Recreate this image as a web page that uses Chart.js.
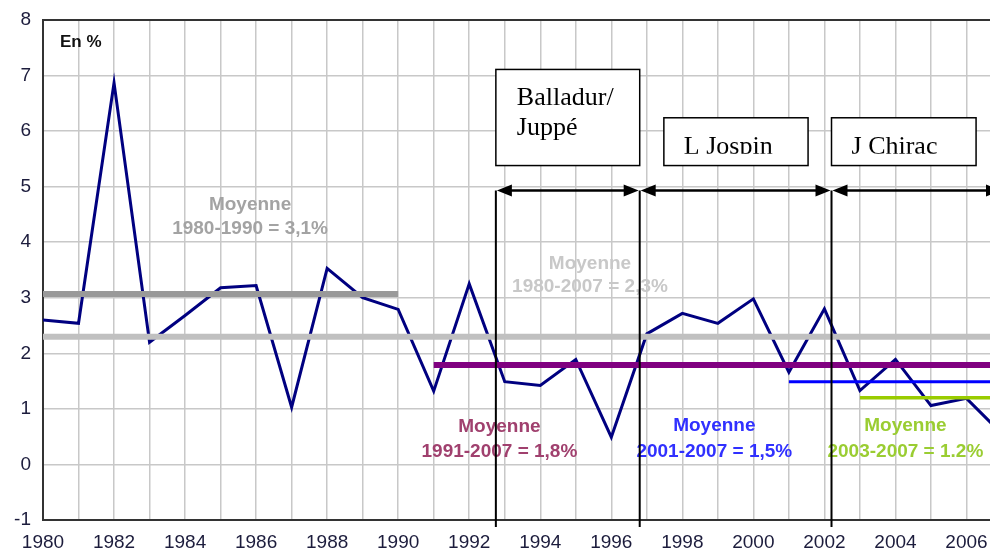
<!DOCTYPE html>
<html>
<head>
<meta charset="utf-8">
<script src="https://cdn.jsdelivr.net/npm/chart.js@4.4.1/dist/chart.umd.min.js"></script>
<style>
  html, body { margin: 0; padding: 0; background: #ffffff; overflow: hidden; }
  #wrap { width: 990px; height: 550px; overflow: hidden; position: relative; }
  canvas { display: block; }
</style>
</head>
<body>
<div id="wrap"><canvas id="c" width="1013" height="550"></canvas></div>
<script>
// ---- Data ----
const years = [1980,1981,1982,1983,1984,1985,1986,1987,1988,1989,1990,1991,1992,1993,
               1994,1995,1996,1997,1998,1999,2000,2001,2002,2003,2004,2005,2006,2007];
const values = [2.6,2.54,6.87,2.2,2.68,3.18,3.22,1.03,3.53,3.0,2.79,1.32,3.25,1.49,
                1.42,1.89,0.49,2.35,2.72,2.54,2.98,1.66,2.8,1.33,1.89,1.06,1.19,0.55];

const avgStart  = [1980, 1980, 1991, 2001, 2003];
const avgEnd    = [1990, 2007, 2007, 2007, 2007];
const avgValues = [3.07, 2.30, 1.79, 1.49, 1.20];
const avgLabels = ['1980-1990 = 3,1%', '1980-2007 = 2,3%', '1991-2007 = 1,8%', '2001-2007 = 1,5%', '2003-2007 = 1.2%'];
const avgTitle  = 'Moyenne';

const periodStart = [1992.75, 1996.8, 2002.2];
const periodEnd   = [1996.8, 2002.2, 2007];
const periodNames = [['Balladur/', 'Juppé'], ['L Jospin'], ['J Chirac']];

const yTicksMin = -1, yTicksMax = 8;
const unitLabel = 'En %';

// ---- Styles / annotation layout (data-space positions) ----
const avgColors     = ['#999999', '#c0c0c0', '#800080', '#0000ff', '#99cc00'];
const avgWidths     = [6, 6, 6, 3, 3.5];
const avgTextColors = ['#a3a3a3', '#c8c8c8', '#a0406e', '#3030ff', '#9acd32'];
const avgTextPos    = [[1985.83, 4.67, 4.24], [1995.4, 3.62, 3.19], [1992.85, 0.68, 0.23],
                       [1998.9, 0.70, 0.23], [2004.28, 0.70, 0.23]];
const arrowY = 4.93;
const boxes = [ {x0:1992.75, x1:1996.8, y0:7.11, y1:5.38},
                {x0:1997.48, x1:2001.54, y0:6.24, y1:5.38},
                {x0:2002.2,  x1:2006.27, y0:6.24, y1:5.38} ];

const mainData = years.map((y, i) => ({x: y, y: values[i]}));
const avgDatasets = avgValues.map((v, i) => ({
  data: [{x: avgStart[i], y: v}, {x: avgEnd[i], y: v}],
  borderColor: avgColors[i], borderWidth: avgWidths[i], pointRadius: 0,
  borderCapStyle: 'butt', fill: false, order: 0
}));

const annotPlugin = {
  id: 'annot',
  afterDatasetsDraw(chart) {
    const ctx = chart.ctx, xs = chart.scales.x, ys = chart.scales.y, ca = chart.chartArea;
    const X = v => xs.getPixelForValue(v), Y = v => ys.getPixelForValue(v);
    ctx.save();
    // top border
    ctx.strokeStyle = '#333333'; ctx.lineWidth = 2;
    ctx.beginPath(); ctx.moveTo(ca.left, ca.top); ctx.lineTo(ca.right, ca.top); ctx.stroke();

    // average labels
    ctx.font = 'bold 19px "Liberation Sans", Arial, sans-serif';
    ctx.textAlign = 'center'; ctx.textBaseline = 'middle';
    avgLabels.forEach((lab, i) => {
      const p = avgTextPos[i];
      ctx.fillStyle = avgTextColors[i];
      ctx.fillText(avgTitle, X(p[0]), Y(p[1]));
      ctx.fillText(lab, X(p[0]), Y(p[2]));
    });

    // vertical period lines
    ctx.strokeStyle = '#000000'; ctx.lineWidth = 2;
    const ay = Y(arrowY);
    periodStart.forEach(v => {
      ctx.beginPath(); ctx.moveTo(X(v), ay); ctx.lineTo(X(v), ca.bottom + 7); ctx.stroke();
    });

    // arrows
    const head = (tipX, dir) => {
      ctx.beginPath();
      ctx.moveTo(tipX, ay);
      ctx.lineTo(tipX + dir * 15, ay - 6);
      ctx.lineTo(tipX + dir * 15, ay + 6);
      ctx.closePath(); ctx.fill();
    };
    ctx.fillStyle = '#000000'; ctx.lineWidth = 2.5;
    periodStart.forEach((s, i) => {
      const a = X(s) + 1, b = X(periodEnd[i]) - 1;
      ctx.beginPath(); ctx.moveTo(a + 10, ay); ctx.lineTo(b - 10, ay); ctx.stroke();
      head(a, 1); head(b, -1);
    });

    // boxes
    boxes.forEach((bx, i) => {
      const x0 = X(bx.x0), x1 = X(bx.x1), y0 = Y(bx.y0), y1 = Y(bx.y1);
      ctx.fillStyle = '#ffffff';
      ctx.fillRect(x0, y0, x1 - x0, y1 - y0);
      ctx.strokeStyle = '#000000'; ctx.lineWidth = 1.5;
      ctx.strokeRect(x0, y0, x1 - x0, y1 - y0);
      ctx.save();
      ctx.font = '26px "Liberation Serif", "Times New Roman", serif';
      ctx.fillStyle = '#000000'; ctx.textAlign = 'left'; ctx.textBaseline = 'alphabetic';
      const lines = periodNames[i];
      if (lines.length === 2) {
        ctx.fillText(lines[0], x0 + 21, y0 + 36);
        ctx.fillText(lines[1], x0 + 21, y0 + 66);
      } else {
        ctx.beginPath(); ctx.rect(x0, y0, x1 - x0, 36); ctx.clip();
        ctx.fillText(lines[0], x0 + 20, y0 + 36);
      }
      ctx.restore();
    });

    // unit label
    ctx.font = 'bold 17px "Liberation Sans", Arial, sans-serif';
    ctx.fillStyle = '#111111'; ctx.textAlign = 'left'; ctx.textBaseline = 'middle';
    ctx.fillText(unitLabel, ca.left + 17, ca.top + 22);
    ctx.restore();
  }
};

new Chart(document.getElementById('c'), {
  type: 'line',
  data: {
    datasets: [
      ...avgDatasets,
      { data: mainData, borderColor: '#000080', borderWidth: 3, pointRadius: 0,
        tension: 0, fill: false, order: 1 }
    ]
  },
  options: {
    responsive: false,
    animation: false,
    devicePixelRatio: 1,
    layout: { padding: { top: 20, right: 7, left: 0, bottom: 0 } },
    plugins: { legend: { display: false }, tooltip: { enabled: false } },
    scales: {
      x: {
        type: 'linear', min: 1980, max: 2007,
        afterFit: s => { s.height = 30; },
        grid: { color: '#c8c8c8', lineWidth: 1.5, drawTicks: false },
        border: { display: true, color: '#333333', width: 2 },
        ticks: {
          stepSize: 1, autoSkip: false, maxRotation: 0, padding: 11,
          color: '#1c1c3c', font: { size: 19, family: '"Liberation Sans", Arial, sans-serif' },
          callback: v => (v % 2 === 0 ? String(v) : '')
        }
      },
      y: {
        min: yTicksMin, max: yTicksMax,
        afterFit: s => { s.width = 43; },
        grid: { color: '#c8c8c8', lineWidth: 1.5, drawTicks: false },
        border: { display: true, color: '#333333', width: 2 },
        ticks: {
          stepSize: 1, padding: 12,
          color: '#1c1c3c', font: { size: 19, lineHeight: 0.7, family: '"Liberation Sans", Arial, sans-serif' }
        }
      }
    }
  },
  plugins: [annotPlugin]
});
</script>
</body>
</html>
